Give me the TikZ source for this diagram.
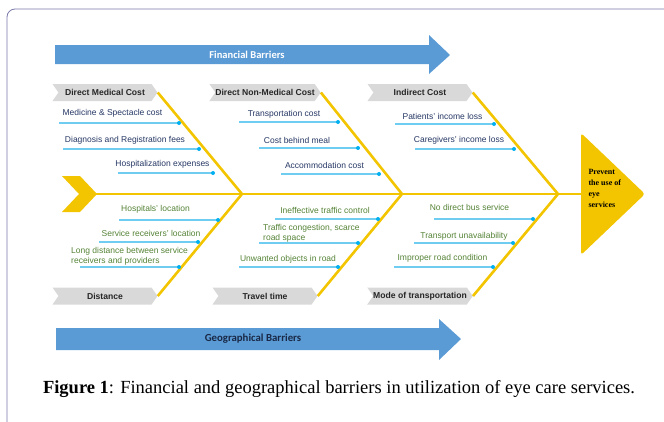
\documentclass[tikz,border=0pt]{standalone}
\usepackage{fontspec}
\setmainfont{Liberation Serif}
\newfontfamily\arialfont{Liberation Sans}
\newfontfamily\calibrifont{Carlito}
\usepackage{tikz}
\usetikzlibrary{shapes.symbols, shapes.geometric, calc}

\definecolor{fishyellow}{RGB}{242,197,0}
\definecolor{barblue}{RGB}{91,155,213}
\definecolor{barnavy}{RGB}{25,40,70}
\definecolor{twigcyan}{RGB}{110,205,240}
\definecolor{dotcyan}{RGB}{0,176,240}
\definecolor{costblue}{RGB}{38,55,100}
\definecolor{geogreen}{RGB}{84,130,53}
\definecolor{labelgray}{RGB}{217,217,217}
\definecolor{framepurple}{RGB}{120,120,170}

\begin{document}
\begin{tikzpicture}[x=1pt, y=-1pt, bone/.style = {fishyellow, line width=2.6pt}]
				\tikzset{cat/.style={signal, signal from=west, signal to=east, signal pointer angle=110, fill=labelgray, minimum width=105pt, minimum height=17pt, inner sep=0pt, font=\arialfont\bfseries\fontsize{8.6}{10}\selectfont, text=black!85}}
				\tikzset{item/.style={inner sep=0pt, align=left, font=\arialfont\fontsize{8.5}{10}\selectfont}}
				\tikzset{costitem/.style={item, text=costblue}, geoitem/.style={item, text=geogreen}}
				\tikzset{twig/.style={twigcyan, line width=1.2pt}, dot/.style={fill=dotcyan}}

				\useasboundingbox (0,0) rectangle (664,421);
				\draw[framepurple, line width=0.8pt, rounded corners=8pt] (7,9) rectangle (700,460);

				% Barriers
				\fill[barblue] (55,45) -- (429,45) -- (429,35) -- (450,55) -- (429,74) -- (429,64) -- (55,64) -- cycle;
				\node[text=white, font=\calibrifont\bfseries\fontsize{10.5}{12}\selectfont] (fin) at (247,54.5) {Financial Barriers};
				\fill[barblue] (56,328) -- (439,328) -- (439,319) -- (461,339) -- (439,360) -- (439,350) -- (56,350) -- cycle;
				\node[text=barnavy, font=\calibrifont\bfseries\fontsize{10.8}{12}\selectfont] (geo) at (253,339) {Geographical Barriers};

				% Spine
				\fill[fishyellow] (62,176) -- (80,176) -- (97,194) -- (80,212) -- (62,212) -- (79,194) -- cycle;
				\fill[fishyellow, rounded corners=3pt] (581,133) -- (645,194) -- (581,255) -- cycle;
				\coordinate (tail) at (96,194);
				\coordinate (head) at (582,194);
				\coordinate (j1) at (242,194);
				\coordinate (j2) at (402,194);
				\coordinate (j3) at (558,194);
				\draw[bone] (tail) -- (head);
				\node[anchor=west, align=left, font=\bfseries\fontsize{8}{11}\selectfont] (effect) at (585,188.5) {Prevent\\the use of\\eye\\services};

				% Categories
				\node[cat] (dmc) at (105,92.5) {Direct Medical Cost};
				\node[cat] (dnmc) at (265,92.5) {Direct Non-Medical Cost};
				\node[cat] (ic) at (420,92.5) {Indirect Cost};
				\node[cat] (dist) at (105,296) {Distance};
				\node[cat] (tt) at (265,296) {Travel time};
				\node[cat] (mot) at (420,296) {Mode of transportation};

				\draw[bone] (dmc.east) -- (j1) -- (dist.east);
				\draw[bone] (dnmc.east) -- (j2) -- (tt.east);
				\draw[bone] (ic.east) -- (j3) -- (mot.east);

				% Direct medical cost
				\node[costitem] (med) at (112.5,113) {Medicine \& Spectacle cost};
				\node[costitem] (diag) at (125,140) {Diagnosis and Registration fees};
				\node[costitem] (hosp) at (162.5,164) {Hospitalization expenses};
				\coordinate (med-l) at (59,123); \coordinate (med-r) at (179,123);
				\coordinate (diag-l) at (63,149); \coordinate (diag-r) at (199,149);
				\coordinate (hosp-l) at (118,173); \coordinate (hosp-r) at (213,173);

				% Direct non-medical cost
				\node[costitem] (trans) at (284,114) {Transportation cost};
				\node[costitem] (meal) at (297,140) {Cost behind meal};
				\node[costitem] (accom) at (324.5,165) {Accommodation cost};
				\coordinate (trans-l) at (239,122); \coordinate (trans-r) at (338,122);
				\coordinate (meal-l) at (259,148); \coordinate (meal-r) at (358,148);
				\coordinate (accom-l) at (281,174); \coordinate (accom-r) at (379,174);

				% Indirect cost
				\node[costitem] (pat) at (442.5,116) {Patients’ income loss};
				\node[costitem] (care) at (459,140) {Caregivers’ income loss};
				\coordinate (pat-l) at (395,124); \coordinate (pat-r) at (494,124);
				\coordinate (care-l) at (415,149); \coordinate (care-r) at (514,149);

				% Distance
				\node[geoitem] (hloc) at (155.5,209) {Hospitals’ location};
				\node[geoitem] (sloc) at (151,233) {Service receivers’ location};
				\node[geoitem, anchor=west] (long) at (71,256) {Long distance between service\\receivers and providers};
				\coordinate (hloc-l) at (119,220); \coordinate (hloc-r) at (218,220);
				\coordinate (sloc-l) at (99,242); \coordinate (sloc-r) at (198,242);
				\coordinate (long-l) at (80,267); \coordinate (long-r) at (179,267);

				% Travel time
				\node[geoitem] (ctrl) at (325,210) {Ineffective traffic control};
				\node[geoitem, anchor=west] (cong) at (263,233) {Traffic congestion, scarce\\road space};
				\node[geoitem] (obj) at (288,259) {Unwanted objects in road};
				\coordinate (ctrl-l) at (275,219); \coordinate (ctrl-r) at (378,219);
				\coordinate (cong-l) at (259,243); \coordinate (cong-r) at (358,243);
				\coordinate (obj-l) at (239,267); \coordinate (obj-r) at (338,267);

				% Mode of transportation
				\node[geoitem] (bus) at (469.5,207) {No direct bus service};
				\node[geoitem] (avail) at (464,236) {Transport unavailability};
				\node[geoitem] (road) at (442.5,258) {Improper road condition};
				\coordinate (bus-l) at (434,219); \coordinate (bus-r) at (533,219);
				\coordinate (avail-l) at (414,243); \coordinate (avail-r) at (513,243);
				\coordinate (road-l) at (394,267); \coordinate (road-r) at (493,267);

				\foreach \t in {med,diag,hosp,trans,meal,accom,pat,care,hloc,sloc,long,ctrl,cong,obj,bus,avail,road}
				{
					\draw[twig] (\t-l) -- (\t-r);
					\fill[dot] (\t-r) circle (2pt);
				}

				\node[font=\fontsize{18.5}{22}\selectfont] (caption) at (339,389) {\textbf{Figure 1}: Financial and geographical barriers in utilization of eye care services.};

			\end{tikzpicture}
\end{document}
